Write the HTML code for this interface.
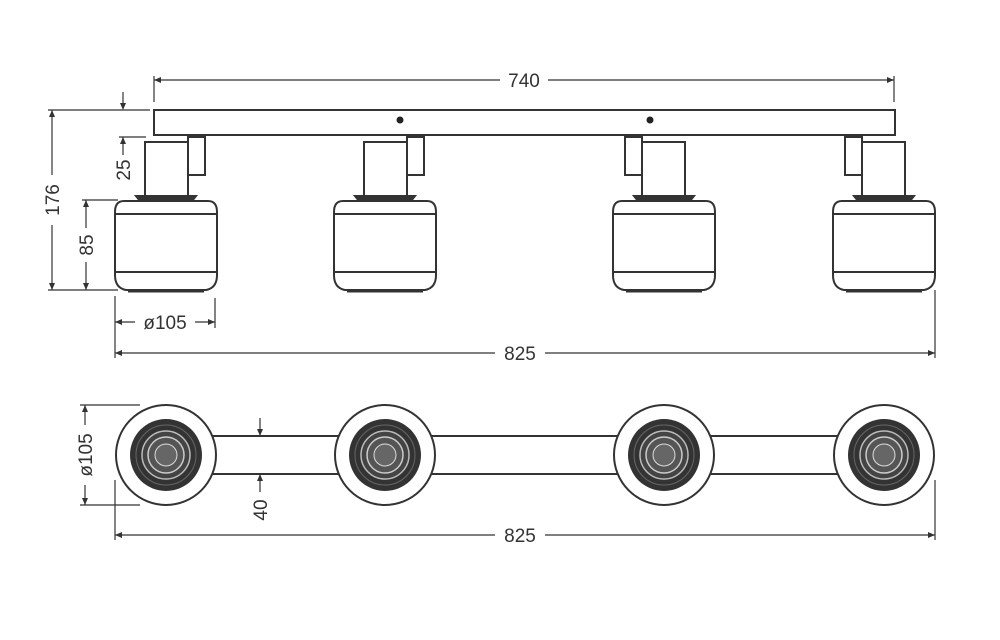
<!DOCTYPE html>
<html><head><meta charset="utf-8"><style>
html,body{margin:0;padding:0;background:#fff}
svg{display:block}
text{font-family:"Liberation Sans",sans-serif;font-size:19px;fill:#333}
</style></head><body>
<svg width="1000" height="640" viewBox="0 0 1000 640" xmlns="http://www.w3.org/2000/svg">
<defs>
<g id="lamp" fill="none" stroke="#333" stroke-width="2">
  <rect x="-21" y="142" width="43" height="58" fill="#fff"/>
  <rect x="22" y="137" width="17" height="38" fill="#fff"/>
  <path d="M-26,201 L26,201 L30,196 L-30,196 Z" fill="#333"/>
  <path d="M-42,201 L42,201 Q51,201 51,212 L51,275 Q51,288 40,290 L-40,290 Q-51,288 -51,275 L-51,212 Q-51,201 -42,201 Z" fill="#fff"/>
  <line x1="-51" y1="214" x2="51" y2="214"/>
  <line x1="-51" y1="272" x2="51" y2="272"/>
  <line x1="-38" y1="291" x2="38" y2="291" stroke-width="3"/>
</g>
<g id="top">
  <circle r="50" fill="#fff" stroke="#333" stroke-width="2"/>
  <circle r="36" fill="#333"/>
  <circle r="30" fill="none" stroke="#666" stroke-width="1"/>
  <circle r="24" fill="#444" stroke="#bbb" stroke-width="1.5"/>
  <circle r="18" fill="#555" stroke="#ccc" stroke-width="1.5"/>
  <circle r="11" fill="#666" stroke="#ddd" stroke-width="1"/>
</g>
</defs>
<g stroke="#333" stroke-width="1.2" fill="none">
  <line x1="154" y1="80" x2="500" y2="80"/><line x1="548" y1="80" x2="894" y2="80"/>
  <line x1="154" y1="76" x2="154" y2="102"/><line x1="894" y1="76" x2="894" y2="102"/>
  <line x1="48" y1="110" x2="150" y2="110"/><line x1="48" y1="290" x2="118" y2="290"/>
  <line x1="52" y1="110" x2="52" y2="175"/><line x1="52" y1="225" x2="52" y2="290"/>
  <line x1="123" y1="92" x2="123" y2="108"/>
  <line x1="119" y1="137" x2="146" y2="137"/>
  <line x1="123" y1="137" x2="123" y2="155"/>
  <line x1="82" y1="200" x2="118" y2="200"/>
  <line x1="86" y1="200" x2="86" y2="228"/><line x1="86" y1="262" x2="86" y2="290"/>
  <line x1="115" y1="296" x2="115" y2="358"/>
  <line x1="215" y1="298" x2="215" y2="328"/>
  <line x1="115" y1="322" x2="135" y2="322"/><line x1="195" y1="322" x2="215" y2="322"/>
  <line x1="115" y1="353" x2="495" y2="353"/><line x1="545" y1="353" x2="935" y2="353"/>
  <line x1="935" y1="290" x2="935" y2="358"/>
  <line x1="80" y1="405" x2="140" y2="405"/><line x1="80" y1="505" x2="140" y2="505"/>
  <line x1="85" y1="405" x2="85" y2="425"/><line x1="85" y1="485" x2="85" y2="505"/>
  <line x1="260" y1="418" x2="260" y2="436"/><line x1="260" y1="474" x2="260" y2="492"/>
  <line x1="115" y1="480" x2="115" y2="540"/><line x1="935" y1="480" x2="935" y2="540"/>
  <line x1="115" y1="535" x2="495" y2="535"/><line x1="545" y1="535" x2="935" y2="535"/>
</g>
<g fill="#333">
  <path d="M154,80 l7,-3 v6z"/><path d="M894,80 l-7,-3 v6z"/>
  <path d="M52,110 l-3,7 h6z"/><path d="M52,290 l-3,-7 h6z"/>
  <path d="M123,110 l-3,-7 h6z"/><path d="M123,137 l-3,7 h6z"/>
  <path d="M86,200 l-3,7 h6z"/><path d="M86,290 l-3,-7 h6z"/>
  <path d="M115,322 l7,-3 v6z"/><path d="M215,322 l-7,-3 v6z"/>
  <path d="M115,353 l7,-3 v6z"/><path d="M935,353 l-7,-3 v6z"/>
  <path d="M85,405 l-3,7 h6z"/><path d="M85,505 l-3,-7 h6z"/>
  <path d="M260,436 l-3,-7 h6z"/><path d="M260,474 l-3,7 h6z"/>
  <path d="M115,535 l7,-3 v6z"/><path d="M935,535 l-7,-3 v6z"/>
</g>
<rect x="154" y="110" width="741" height="25" fill="#fff" stroke="#333" stroke-width="2"/>
<circle cx="400" cy="120" r="3.5" fill="#222"/><circle cx="650" cy="120" r="3.5" fill="#222"/>
<use href="#lamp" transform="translate(166,0)"/>
<use href="#lamp" transform="translate(385,0)"/>
<use href="#lamp" transform="translate(664,0) scale(-1,1)"/>
<use href="#lamp" transform="translate(884,0) scale(-1,1)"/>
<rect x="166" y="436" width="718" height="38" fill="#fff" stroke="#333" stroke-width="2"/>
<use href="#top" transform="translate(166,455)"/>
<use href="#top" transform="translate(385,455)"/>
<use href="#top" transform="translate(664,455)"/>
<use href="#top" transform="translate(884,455)"/>
<text x="524" y="87" text-anchor="middle">740</text>
<text x="520" y="360" text-anchor="middle">825</text>
<text x="520" y="542" text-anchor="middle">825</text>
<text x="165" y="329" text-anchor="middle">ø105</text>
<text transform="translate(59,200) rotate(-90)" text-anchor="middle">176</text>
<text transform="translate(130,170) rotate(-90)" text-anchor="middle">25</text>
<text transform="translate(93,245) rotate(-90)" text-anchor="middle">85</text>
<text transform="translate(92,455) rotate(-90)" text-anchor="middle">ø105</text>
<text transform="translate(267,510) rotate(-90)" text-anchor="middle">40</text>
</svg>
</body></html>
